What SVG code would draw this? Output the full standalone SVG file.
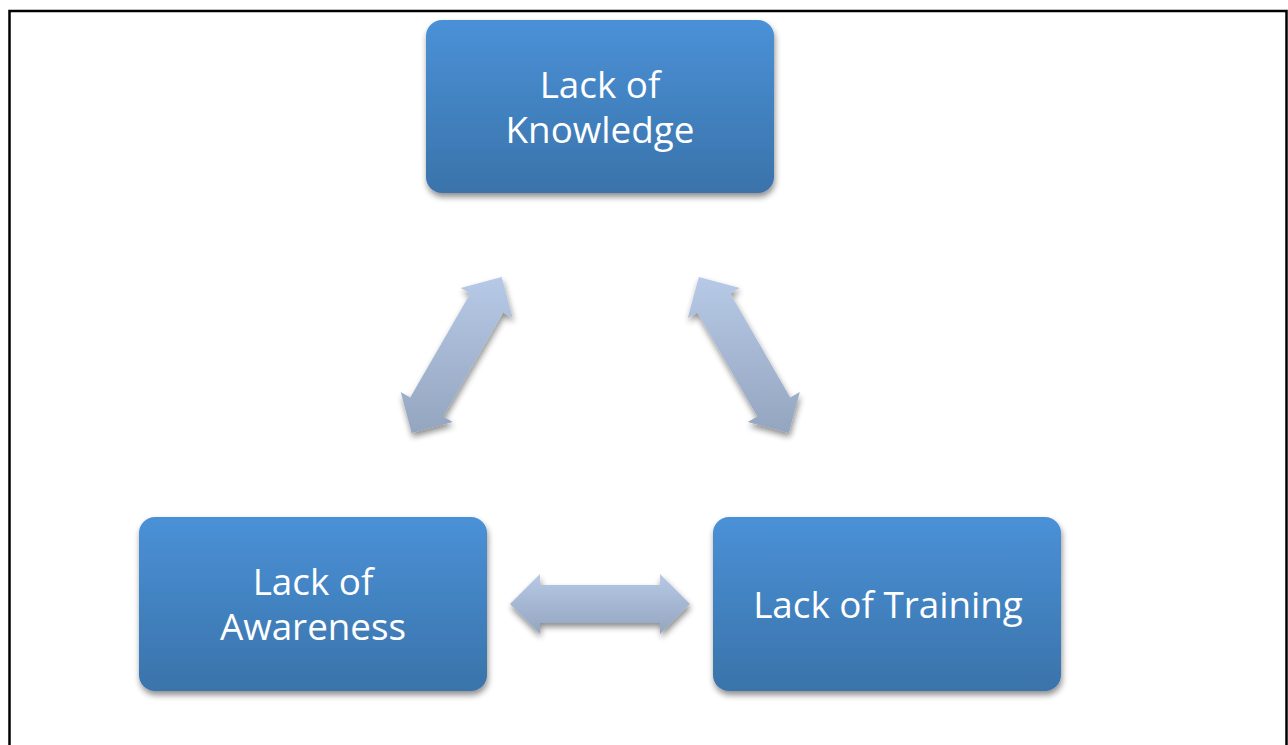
<svg xmlns="http://www.w3.org/2000/svg" width="1288" height="745" viewBox="0 0 1288 745">
  <defs>
    <linearGradient id="boxFill" x1="0" y1="0" x2="0" y2="1">
      <stop offset="0" stop-color="#4A91D7"/>
      <stop offset="1" stop-color="#3A73AA"/>
    </linearGradient>
    <linearGradient id="arrowFill" x1="0" y1="0" x2="0" y2="1">
      <stop offset="0" stop-color="#B6C9E6"/>
      <stop offset="1" stop-color="#94A5BF"/>
    </linearGradient>
    <filter id="shadow" x="-20%" y="-20%" width="140%" height="140%">
      <feGaussianBlur in="SourceAlpha" stdDeviation="3"/>
      <feOffset dx="1" dy="4" result="blur"/>
      <feComponentTransfer><feFuncA type="linear" slope="0.45"/></feComponentTransfer>
      <feMerge><feMergeNode/><feMergeNode in="SourceGraphic"/></feMerge>
    </filter>
  </defs>
  <style>
    .box { fill: url(#boxFill); filter: url(#shadow); }
    .label { fill: #FFFFFF; font-family: "Open Sans", "Noto Sans", "Liberation Sans", sans-serif; font-size: 36.8px; text-anchor: middle; }
    .arrow { fill: url(#arrowFill); filter: url(#shadow); }
  </style>

  <rect x="9.5" y="11" width="1277" height="760" fill="#FFFFFF" stroke="#000000" stroke-width="2.5"/>

  <g id="connectors">
    <polygon class="arrow" points="411.7,432.9 400.7,392.0 410.25,397.46 470.25,293.54 460.7,288.0 501.7,277.1 512.7,318.0 503.15,312.5 443.15,416.5 452.7,422.0"/>
    <polygon class="arrow" points="788.8,432.9 799.8,392.0 790.25,397.46 730.25,293.54 739.8,288.0 698.8,277.1 687.8,318.0 697.35,312.5 757.35,416.5 747.8,422.0"/>
    <polygon class="arrow" points="510,604 540,574 540,585 660,585 660,574 690,604 660,634 660,623 540,623 540,634"/>
  </g>

  <g id="knowledge">
    <rect class="box" x="426" y="20" width="348" height="173" rx="16"/>
    <text class="label" x="600" y="98">Lack of<tspan x="600" dy="45">Knowledge</tspan></text>
  </g>

  <g id="awareness">
    <rect class="box" x="139" y="517" width="348" height="174" rx="16"/>
    <text class="label" x="313" y="595">Lack of<tspan x="313" dy="45">Awareness</tspan></text>
  </g>

  <g id="training">
    <rect class="box" x="713" y="517" width="348" height="174" rx="16"/>
    <text class="label" x="888" y="618">Lack of Training</text>
  </g>
</svg>
